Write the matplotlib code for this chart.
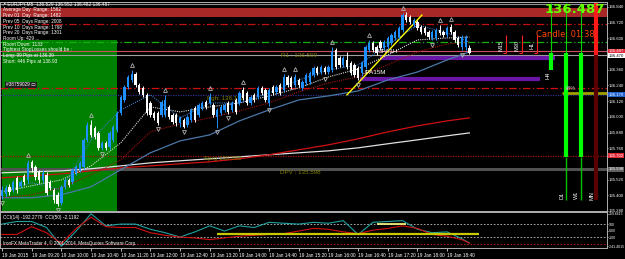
import numpy as np
import matplotlib.pyplot as plt
from matplotlib.transforms import blended_transform_factory

# EURJPY M5 candles, 19 Jan 2015 08:40 .. 19:10
opens = [135.396, 135.412, 135.465, 135.442, 135.534, 135.473, 135.549, 135.518, 135.656, 135.618,
         135.580, 135.518, 135.557, 135.503, 135.442, 135.404, 135.343, 135.465, 135.518, 135.503,
         135.572, 135.595, 135.618, 135.824, 135.939, 135.916, 135.877, 135.763, 135.801, 135.771,
         135.824, 135.900, 136.030, 136.129, 136.229, 136.282, 136.328, 136.244, 136.221, 136.168,
         136.106, 136.030, 136.030, 136.015, 136.015, 136.076, 136.015, 136.015, 135.954, 135.977,
         135.939, 135.977, 136.068, 136.015, 136.068, 136.114, 136.106, 136.091, 136.000, 136.030,
         136.053, 136.106, 136.053, 136.129, 136.106, 136.206, 136.183, 136.106, 136.168, 136.152,
         136.221, 136.206, 136.106, 136.229, 136.190, 136.244, 136.206, 136.305, 136.297, 136.244,
         136.282, 136.221, 136.259, 136.267, 136.320, 136.374, 136.343, 136.374, 136.343, 136.358,
         136.511, 136.450, 136.397, 136.435, 136.412, 136.397, 136.374, 136.336, 136.381, 136.511,
         136.565, 136.534, 136.572, 136.526, 136.534, 136.565, 136.603, 136.610, 136.664, 136.778,
         136.763, 136.702, 136.725, 136.687, 136.679, 136.649, 136.603, 136.603, 136.664, 136.649,
         136.626, 136.687, 136.649, 136.603, 136.534, 136.534, 136.529]
highs = [135.473, 135.480, 135.488, 135.518, 135.549, 135.518, 135.564, 135.671, 135.671, 135.633,
         135.595, 135.595, 135.580, 135.518, 135.457, 135.427, 135.480, 135.534, 135.534, 135.610,
         135.633, 135.664, 135.839, 135.961, 135.977, 135.931, 135.893, 135.816, 135.816, 135.893,
         135.939, 136.045, 136.168, 136.244, 136.320, 136.358, 136.343, 136.259, 136.236, 136.183,
         136.122, 136.045, 136.045, 136.129, 136.168, 136.091, 136.030, 136.030, 136.007, 135.992,
         136.015, 136.068, 136.084, 136.106, 136.122, 136.129, 136.183, 136.106, 136.068, 136.091,
         136.106, 136.122, 136.122, 136.145, 136.198, 136.229, 136.198, 136.168, 136.183, 136.236,
         136.236, 136.221, 136.221, 136.244, 136.244, 136.259, 136.328, 136.320, 136.313, 136.328,
         136.297, 136.282, 136.336, 136.351, 136.389, 136.389, 136.397, 136.389, 136.397, 136.534,
         136.526, 136.465, 136.465, 136.496, 136.427, 136.412, 136.389, 136.427, 136.549, 136.588,
         136.580, 136.549, 136.588, 136.588, 136.618, 136.641, 136.664, 136.694, 136.794, 136.801,
         136.778, 136.756, 136.740, 136.702, 136.694, 136.664, 136.664, 136.679, 136.702, 136.664,
         136.694, 136.710, 136.664, 136.618, 136.626, 136.626, 136.552]
lows = [135.373, 135.389, 135.404, 135.427, 135.419, 135.457, 135.480, 135.496, 135.580, 135.518,
        135.496, 135.496, 135.404, 135.442, 135.343, 135.320, 135.328, 135.450, 135.465, 135.488,
        135.557, 135.580, 135.603, 135.809, 135.847, 135.832, 135.748, 135.748, 135.748, 135.755,
        135.809, 135.885, 136.015, 136.114, 136.213, 136.267, 136.229, 136.175, 136.152, 136.015,
        136.000, 135.977, 135.939, 136.000, 136.000, 135.984, 135.946, 135.931, 135.923, 135.916,
        135.923, 135.961, 135.961, 136.000, 136.053, 136.061, 136.091, 136.000, 135.916, 136.015,
        136.038, 136.023, 136.038, 136.023, 136.091, 136.129, 136.091, 136.091, 136.114, 136.137,
        136.168, 136.114, 136.084, 136.168, 136.175, 136.168, 136.190, 136.229, 136.213, 136.229,
        136.229, 136.206, 136.244, 136.252, 136.305, 136.320, 136.328, 136.328, 136.328, 136.343,
        136.366, 136.381, 136.381, 136.366, 136.320, 136.305, 136.282, 136.313, 136.366, 136.496,
        136.496, 136.473, 136.511, 136.511, 136.519, 136.549, 136.588, 136.595, 136.649, 136.725,
        136.710, 136.687, 136.664, 136.633, 136.626, 136.595, 136.588, 136.588, 136.626, 136.610,
        136.610, 136.633, 136.572, 136.534, 136.511, 136.511, 136.482]
closes = [135.442, 135.457, 135.427, 135.503, 135.442, 135.503, 135.503, 135.648, 135.610, 135.541,
          135.518, 135.572, 135.419, 135.457, 135.366, 135.335, 135.465, 135.518, 135.480, 135.595,
          135.618, 135.648, 135.824, 135.939, 135.862, 135.847, 135.763, 135.801, 135.763, 135.877,
          135.923, 136.030, 136.152, 136.229, 136.305, 136.328, 136.244, 136.190, 136.168, 136.030,
          136.015, 135.992, 135.954, 136.114, 136.129, 136.000, 135.961, 135.954, 135.992, 135.923,
          136.000, 136.053, 135.977, 136.091, 136.106, 136.076, 136.152, 136.015, 136.053, 136.076,
          136.091, 136.038, 136.106, 136.038, 136.183, 136.145, 136.106, 136.152, 136.129, 136.221,
          136.183, 136.129, 136.206, 136.183, 136.229, 136.183, 136.305, 136.244, 136.229, 136.305,
          136.244, 136.267, 136.320, 136.336, 136.374, 136.336, 136.381, 136.343, 136.381, 136.496,
          136.381, 136.397, 136.450, 136.381, 136.336, 136.320, 136.297, 136.412, 136.534, 136.565,
          136.511, 136.488, 136.526, 136.572, 136.603, 136.626, 136.649, 136.679, 136.778, 136.740,
          136.725, 136.740, 136.679, 136.649, 136.641, 136.610, 136.649, 136.664, 136.641, 136.626,
          136.679, 136.649, 136.588, 136.549, 136.610, 136.610, 136.487]

fractal_up = [7, 24, 35, 44, 56, 65, 76, 79, 89, 99, 108, 118, 121]
fractal_dn = [0, 15, 27, 42, 49, 58, 61, 72, 87, 96, 116, 124]

# moving averages read every 8 bars
ma_bars = [0, 8, 16, 24, 32, 40, 48, 56, 64, 72, 80, 88, 96, 104, 112, 120, 126]
ma_slow = [135.381, 135.381, 135.404, 135.465, 135.595, 135.725, 135.816, 135.862, 135.969, 136.053,
           136.129, 136.160, 136.198, 136.282, 136.343, 136.435, 136.496]
ma_mid = [135.381, 135.404, 135.457, 135.557, 135.671, 135.885, 135.946, 135.992, 136.045, 136.106,
          136.190, 136.259, 136.305, 136.397, 136.496, 136.557, 136.572]
ma_fast = [135.427, 135.473, 135.518, 135.625, 135.801, 136.076, 136.038, 136.076, 136.106, 136.160,
           136.221, 136.305, 136.366, 136.473, 136.588, 136.603, 136.610]
ma_fastest = [135.427, 135.496, 135.442, 135.824, 136.053, 136.168, 135.992, 136.106, 136.106, 136.183,
              136.282, 136.358, 136.397, 136.549, 136.702, 136.641, 136.572]
ma_long_white = [135.572, 135.580, 135.587, 135.603, 135.625, 135.648, 135.664, 135.679, 135.694, 135.710,
                 135.725, 135.740, 135.763, 135.794, 135.824, 135.855, 135.877]
ma_long_red = [135.534, 135.549, 135.564, 135.587, 135.610, 135.625, 135.641, 135.656, 135.679, 135.710,
               135.748, 135.786, 135.832, 135.885, 135.931, 135.969, 135.992]

# CCI read every 4 bars
cci_bars = list(range(0, 125, 4)) + [126]
cci14 = [100, 140, 140, 47, -241, -7, 259, 73, 100, 100, 20, -33, -100, -20, 73, -7, 73, 47, 127, 113,
         100, 127, 113, 153, -60, 127, 140, 153, 20, -33, -20, -127, -192]
cci50 = [-60, -60, 60, -33, -200, 33, 207, 60, 47, 47, -33, -73, -100, -113, -140, -113, -87, -73, -60, -47,
         -7, 33, 20, -20, -47, 7, 33, 73, 33, -60, -87, -140, -193]
cci_ticks = [259.6615, 100, 0, -100, -241.4015]
cci_tick_labels = ['259.6615', '100', '0.00', '-100', '-241.4015']

tick_bars = list(range(0, 121, 8))
tick_labels = ["19 Jan 2015", "19 Jan 09:20", "19 Jan 10:00", "19 Jan 10:40", "19 Jan 11:20", "19 Jan 12:00",
               "19 Jan 12:40", "19 Jan 13:20", "19 Jan 14:00", "19 Jan 14:40", "19 Jan 15:20", "19 Jan 16:00",
               "19 Jan 16:40", "19 Jan 17:20", "19 Jan 18:00", "19 Jan 18:40"]
# 136.480 and 135.640 sit under the highlighted price boxes
price_ticks = [135.280, 135.400, 135.520, 135.760, 135.880, 136.000, 136.120, 136.240,
               136.360, 136.600, 136.720, 136.840]

info_lines = ["Average Day  Range: 1562", "Prev 01  Day  Range: 1482", "Prev 05  Days Range: 2008",
              "Prev 10  Days Range: 1768", "Prev 20  Days Range: 1301", "Room Up: 429 ...",
              "Room Down: 1133", "Tightest StopLosses should be :", "Long: 99 Pips at 136.39",
              "Short: 446 Pips at 136.93"]

SMALL = ['Liberation Sans', 'DejaVu Sans']
W, H = 625, 259
def box(x0, y0, x1, y1):
    return [x0 / W, 1 - y1 / H, (x1 - x0) / W, (y1 - y0) / H]

fig = plt.figure(figsize=(6.25, 2.59), dpi=100, facecolor='black')
ax = fig.add_axes(box(0, 2, 607, 211))
cx = fig.add_axes(box(0, 212, 607, 248))
for a in (ax, cx):
    a.set_facecolor('black')
    for s in a.spines.values():
        s.set_color('#b0b0b0')
        s.set_linewidth(0.7)
    a.set_xlim(-0.54, 163.1)

ax.set_ylim(135.282, 136.878)
tr = blended_transform_factory(ax.transAxes, ax.transData)

# background zones and levels
ax.fill_between([-0.1, 30.9], 135.282, 136.588, color='#008000', zorder=0, lw=0)
ax.axhspan(136.763, 136.832, color='#a82828', zorder=1, lw=0)
ax.axhline(136.862, color='#909090', lw=0.8, zorder=1)
ax.axhline(136.710, color='#c01010', lw=0.9, ls=(0, (6, 2, 1, 2)), zorder=1)
ax.axhline(136.572, color='#10b010', lw=0.9, ls=(0, (6, 2, 1, 2)), zorder=1)
ax.axhline(136.500, color='#d05060', lw=0.8, zorder=1)
ax.axhline(136.470, color='#a0a0a0', lw=0.8, zorder=1)
ax.axhline(136.221, color='#d01010', lw=0.9, ls=(0, (6, 2, 1, 2)), zorder=1)
ax.axhline(136.168, color='#303090', lw=0.9, ls=(0, (1, 1)), zorder=1)
ax.axhline(135.702, color='#a01010', lw=0.9, ls=(0, (1, 1)), zorder=1)
ax.axhline(135.600, color='#505050', lw=2.2, zorder=1)
ax.hlines(136.450, 101.9, 149, color='#6a16a6', lw=3, zorder=2)
ax.hlines(136.290, 96.5, 145, color='#6a16a6', lw=3, zorder=2)
ax.hlines(136.183, 151, 163, color='#a0a000', lw=2, zorder=2)

# moving averages
ax.plot(ma_bars, ma_long_white, color='#e0e0e0', lw=0.9, zorder=2)
ax.plot(ma_bars, ma_long_red, color='#d01010', lw=0.9, zorder=2)
ax.plot(ma_bars, ma_slow, color='#4a78a8', lw=0.9, zorder=2)
ax.plot(ma_bars, ma_mid, color='#a01010', lw=0.8, ls=(0, (1, 1)), zorder=2)
ax.plot(ma_bars, ma_fast, color='#d8d8d8', lw=0.8, ls=(0, (1, 1)), zorder=2)
ax.plot(ma_bars, ma_fastest, color='#3a78c0', lw=0.8, ls=(0, (1, 1)), zorder=2)

# trend line
ax.plot([93, 113.2], [136.168, 136.778], color='#ffff00', lw=1, zorder=3)

# candles
o = np.array(opens); c = np.array(closes)
idx = np.arange(len(o))
up = c >= o
cols = np.where(up, '#1e90ff', '#ffffff')
ax.vlines(idx, lows, highs, colors=cols, lw=0.7, zorder=4)
ax.bar(idx, np.maximum(np.abs(c - o), 0.004), bottom=np.minimum(o, c), width=0.62,
       color=cols, lw=0, zorder=5)

# fractals
ax.plot(fractal_up, np.array(highs)[fractal_up] + 0.035, ls='none', marker='^', ms=2.8,
        mfc='none', mec='#b0b0b0', mew=0.6, zorder=6)
ax.plot(fractal_dn, np.array(lows)[fractal_dn] - 0.035, ls='none', marker='v', ms=2.8,
        mfc='none', mec='#b0b0b0', mew=0.6, zorder=6)

# higher-timeframe bars on the right
for xb in (148, 152, 156):
    ax.vlines(xb, 136.488, 136.870, color='#00d000', lw=0.8, zorder=3)
ax.vlines(148, 136.358, 136.488, color='#00ff00', lw=3, zorder=3)
for xb in (152, 156):
    ax.vlines(xb, 135.694, 136.488, color='#00ff00', lw=3, zorder=3)
    ax.vlines(xb, 135.366, 135.694, color='#00c000', lw=1, zorder=3)
ax.vlines(160, 136.473, 136.870, color='#ff1a1a', lw=3, zorder=3)
ax.vlines(160, 135.366, 136.473, color='#5a0000', lw=3, zorder=3)
for xb, lab in ((135.8, 'M15'), (140.2, 'M30'), (144.2, 'H1')):
    ax.vlines(xb, 136.488, 136.626, color='#ff2020', lw=0.8, zorder=3)
    ax.hlines(136.488, xb - 0.8, xb, color='#ff2020', lw=0.8, zorder=3)
    ax.text(xb - 1.3, 136.545, lab, color='white', fontsize=4, family=SMALL, rotation=90,
            ha='center', va='center')
ax.text(147.1, 136.320, 'H4', color='white', fontsize=4, family=SMALL, rotation=90, ha='center', va='center')
for xb, lab in ((151, 'D1'), (155, 'W1'), (159, 'MN')):
    ax.text(xb, 135.40, lab, color='white', fontsize=4, family=SMALL, rotation=90, ha='center', va='center')
ax.text(151.7, 136.215, '38%', color='#c0c0c0', fontsize=4, family=SMALL, ha='left', va='center')

ax.text(162.6, 136.818, '136.487', color='#66ff00', fontsize=9.5, fontweight='bold', ha='right', va='center')
ax.text(159.8, 136.626, 'Candle: 01:38', color='#ff4500', fontsize=6, ha='right', va='center')

# chart labels
lab_kw = dict(color='#808000', fontsize=4.5, family=SMALL, va='center')
ax.text(75.2, 136.470, 'R1 : 136.509', **lab_kw)
ax.text(55.3, 136.137, 'Pgh: 136.172', **lab_kw)
ax.text(54.5, 135.680, 'Sprg 135.692', **lab_kw)
ax.text(75.0, 135.575, 'DPV : 135.598', **lab_kw)
ax.text(101.3, 136.496, 'UPA1H', color='white', fontsize=4.5, family=SMALL, va='center')
ax.text(96.8, 136.336, 'UPA15M', color='white', fontsize=4.5, family=SMALL, va='center')

# price axis
ax.yaxis.tick_right()
ax.set_yticks(price_ticks)
ax.set_yticklabels([f'{p:.3f}' for p in price_ticks], family=SMALL)
ax.tick_params(axis='y', colors='white', labelsize=3.1, length=1, width=0.5, pad=0.5)
ax.set_xticks([])
for p, lab, bg, fg in ((136.500, '136.487', '#e02838', 'white'), (136.468, '136.470', '#ffffff', 'black'),
                       (136.170, '136.170', '#2060d0', 'white'), (135.702, '135.702', '#e02838', 'white'),
                       (135.600, '135.598', '#606060', 'white')):
    ax.text(1.003, p, lab, transform=tr, fontsize=3.1, family=SMALL, color=fg, va='center', ha='left',
            bbox=dict(boxstyle='square,pad=0.12', fc=bg, ec='none'), clip_on=False)

# info block
fig.text(2 / W, 1 - 4 / H, '\u2197 EURJPY,M5  136.529 136.552 136.482 136.487', color='white', fontsize=3.4,
         family=SMALL, va='center', ha='left')
for k, line in enumerate(info_lines):
    fig.text(3 / W, 1 - (10 + 5.7 * k) / H, line, color='white', fontsize=3.4, family=SMALL,
             va='center', ha='left')
fig.text(6 / W, 1 - 85 / H, '#38759029 \u25ad', color='white', fontsize=3.4, family=SMALL, va='center', ha='left',
         bbox=dict(boxstyle='square,pad=0.2', fc='#202020', ec='none'))

# CCI panel
cx.set_ylim(-268, 286)
cx.axhline(100, color='#c0c0c0', lw=0.6, ls=(0, (2, 2)))
cx.axhline(-100, color='#c0c0c0', lw=0.6, ls=(0, (2, 2)))
cx.axhline(-200, color='#d02020', lw=0.6, ls=(0, (2, 2)))
cx.plot(cci_bars, cci14, color='#20a0a0', lw=0.8)
cx.plot(cci_bars, cci50, color='#d01010', lw=0.8)
cx.hlines(-55, 58, 128.5, color='#c8c800', lw=1.6)
cx.hlines(100, 101, 109, color='#ffff80', lw=1.2)
cx.text(0.005, 0.86, 'CCI(14) -192.2779  CCI(50) -2.1192', transform=cx.transAxes, color='white',
        fontsize=3.4, family=SMALL, va='center')
cx.text(0.005, 0.12, 'IronFX MetaTrader 4, \u00a9 2001-2014, MetaQuotes Software Corp.', transform=cx.transAxes,
        color='white', fontsize=3.3, family=SMALL, va='center')
cx.yaxis.tick_right()
cx.set_yticks(cci_ticks)
cx.set_yticklabels(cci_tick_labels, family=SMALL)
cx.tick_params(axis='y', colors='white', labelsize=2.5, length=1, width=0.5, pad=0.5)
cx.set_xticks(tick_bars)
cx.set_xticklabels(tick_labels, ha='left', family=SMALL)
cx.tick_params(axis='x', colors='white', labelsize=3.4, length=2, width=0.5, pad=1.5)

fig.savefig('out.png', dpi=100, facecolor='black')
